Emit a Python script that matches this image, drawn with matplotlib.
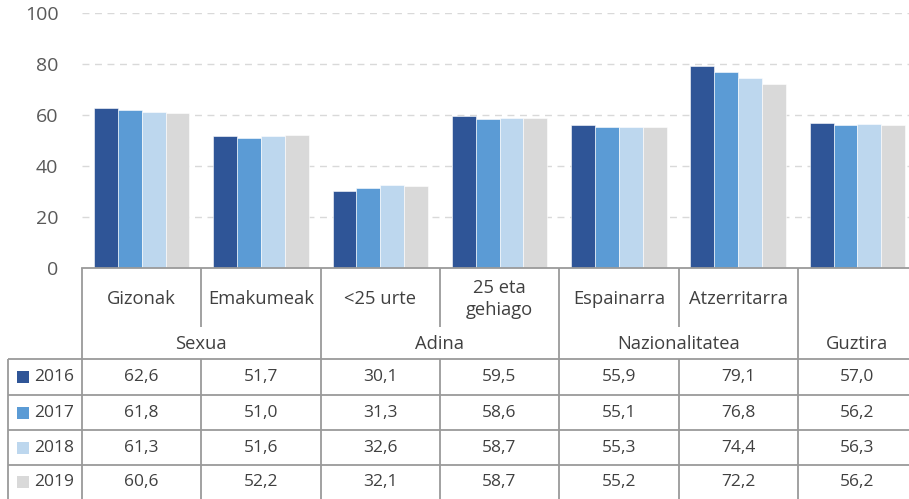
import matplotlib
matplotlib.use("Agg")
import matplotlib.pyplot as plt
from matplotlib.patches import Rectangle

plt.rcParams['font.family'] = ['Open Sans', 'DejaVu Sans']

categories = ["Gizonak", "Emakumeak", "<25 urte", "25 eta\ngehiago", "Espainarra", "Atzerritarra", ""]
groups = ["Sexua", "Adina", "Nazionalitatea", "Guztira"]
group_spans = [(0, 2), (2, 4), (4, 6), (6, 7)]
years = ["2016", "2017", "2018", "2019"]
v2016 = [62.6, 51.7, 30.1, 59.5, 55.9, 79.1, 57.0]
v2017 = [61.8, 51.0, 31.3, 58.6, 55.1, 76.8, 56.2]
v2018 = [61.3, 51.6, 32.6, 58.7, 55.3, 74.4, 56.3]
v2019 = [60.6, 52.2, 32.1, 58.7, 55.2, 72.2, 56.2]
series = [v2016, v2017, v2018, v2019]
colors = ["#2F5597", "#5B9BD5", "#BDD7EE", "#D9D9D9"]
yticks = [0, 20, 40, 60, 80, 100]

W, H = 909, 499
x0 = 82.0
cw = 119.3
ncat = len(categories)
txt = "#404040"
line_c = "#9a9a9a"
fs = 12.5
fs_lab = 13.2

fig = plt.figure(figsize=(W / 100, H / 100), dpi=100)

# ---- chart ----
ax = fig.add_axes([x0 / W, (H - 268) / H, ncat * cw / W, (268 - 13) / H])
ax.set_xlim(0, ncat)
ax.set_ylim(0, 100)
bw = 0.2
for j, vals in enumerate(series):
    xs = [i + 0.5 + (j - 1.5) * bw for i in range(ncat)]
    ax.bar(xs, vals, width=bw, color=colors[j], edgecolor="white", linewidth=0.4, zorder=3)
ax.set_yticks(yticks)
ax.set_yticklabels([str(t) for t in yticks], color="#595959", fontsize=14)
ax.set_xticks([])
ax.tick_params(axis="y", length=0, pad=17)
ax.grid(axis="y", color="#d9d9d9", linestyle=(0, (5, 4)), linewidth=1.0, zorder=0)
for s in ["top", "right", "left"]:
    ax.spines[s].set_visible(False)
ax.spines["bottom"].set_color(line_c)
ax.spines["bottom"].set_linewidth(1.3)
ax.spines["bottom"].set_zorder(5)

# ---- table ----
tab = fig.add_axes([0, 0, (x0 + ncat * cw) / W, (H - 268) / H])
tab.set_xlim(-x0 / cw, ncat)
tab.set_ylim(499, 268)
tab.axis("off")

y_top, y_sub, y_grp, y_bot = 268, 327, 359, 499
row_lines = [359, 395, 430, 465]
x_left = (8 - x0) / cw
lw = 1.3

for b in [0, 2, 4, 6, 7]:
    tab.plot([b, b], [y_top, y_bot], color=line_c, lw=lw, solid_capstyle="butt")
for b in [1, 3, 5]:
    tab.plot([b, b], [y_top, y_sub], color=line_c, lw=lw, solid_capstyle="butt")
    tab.plot([b, b], [y_grp, y_bot], color=line_c, lw=lw, solid_capstyle="butt")
tab.plot([x_left, x_left], [y_grp, y_bot], color=line_c, lw=lw, solid_capstyle="butt")
for yl in row_lines:
    tab.plot([x_left, ncat], [yl, yl], color=line_c, lw=lw, solid_capstyle="butt")

for i, c in enumerate(categories):
    tab.text(i + 0.5, 299, c, ha="center", va="center", fontsize=fs_lab, color=txt, linespacing=1.25)
for g, (a, b) in zip(groups, group_spans):
    tab.text((a + b) / 2, 344, g, ha="center", va="center", fontsize=fs_lab, color=txt)

row_centers = [(row_lines[k] + (row_lines[k + 1] if k + 1 < len(row_lines) else 499)) / 2 for k in range(len(row_lines))]
for j, (yr, vals) in enumerate(zip(years, series)):
    yc = row_centers[j]
    tab.add_patch(Rectangle(((17 - x0) / cw, yc - 6), 12 / cw, 12, facecolor=colors[j], edgecolor="none"))
    tab.text((34 - x0) / cw, yc, yr, ha="left", va="center", fontsize=fs, color=txt)
    for i, v in enumerate(vals):
        tab.text(i + 0.5, yc, f"{v:.1f}".replace(".", ","), ha="center", va="center", fontsize=fs, color=txt)

fig.savefig("out.png", dpi=100)
